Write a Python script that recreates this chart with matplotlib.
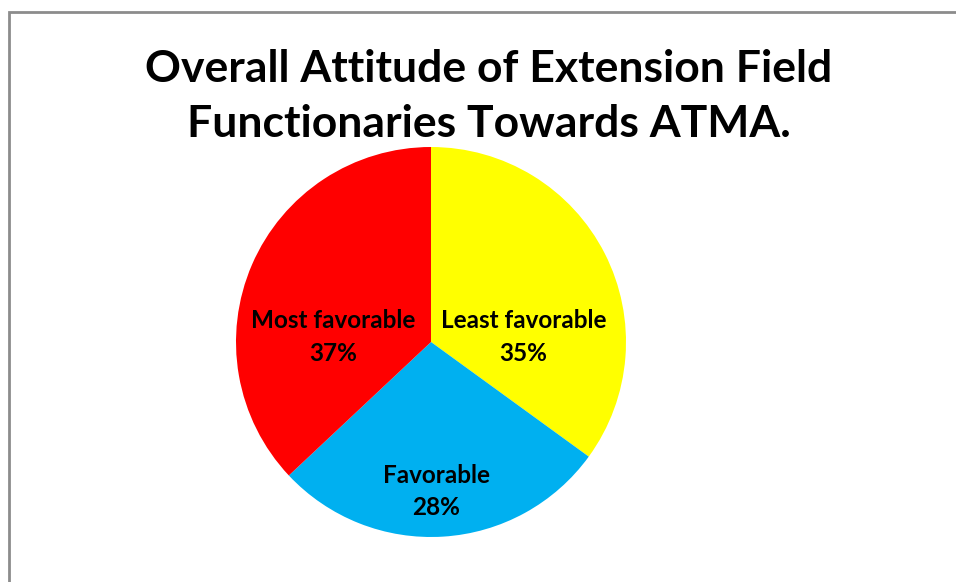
import matplotlib.pyplot as plt
from matplotlib.patches import Rectangle

labels = ['Least favorable', 'Favorable', 'Most favorable']
shares = [35, 28, 37]
colors = ['#FFFF00', '#00B0F0', '#FF0000']
# where Excel put each data label, in pie radius units
label_pos = [(0.474, 0.026), (0.026, -0.767), (-0.50, 0.026)]

plt.rcParams['font.family'] = ['Lato', 'DejaVu Sans']

fig = plt.figure(figsize=(9.56, 5.82), dpi=100)

# chart area border (only top and left are visible in the crop)
fig.patches.append(Rectangle((8.5 / 956, -0.1), 2.0, 1.0 - 11.5 / 582 + 0.1,
                             transform=fig.transFigure, fill=False,
                             edgecolor='#8c8c8c', linewidth=2))

# baseline of the last title line
fig.text(0.511, 1 - 137 / 582, 'Overall Attitude of Extension Field\nFunctionaries Towards ATMA.',
         ha='center', va='baseline', fontsize=32, fontweight='bold',
         linespacing=1.45)

ax = fig.add_axes([(431 - 195) / 956, (582 - 342 - 195) / 582, 390 / 956, 390 / 582])
wedges, _ = ax.pie(shares, colors=colors, startangle=90, counterclock=False,
                   radius=1.0)
ax.set_xlim(-1, 1)
ax.set_ylim(-1, 1)
ax.set_aspect('equal')
ax.axis('off')

for lab, s, (x, y) in zip(labels, shares, label_pos):
    ax.text(x, y, f'{lab}\n{s}%', ha='center', va='center', fontsize=17.5,
            fontweight='bold', linespacing=1.5)

fig.savefig('out.png', dpi=100)
